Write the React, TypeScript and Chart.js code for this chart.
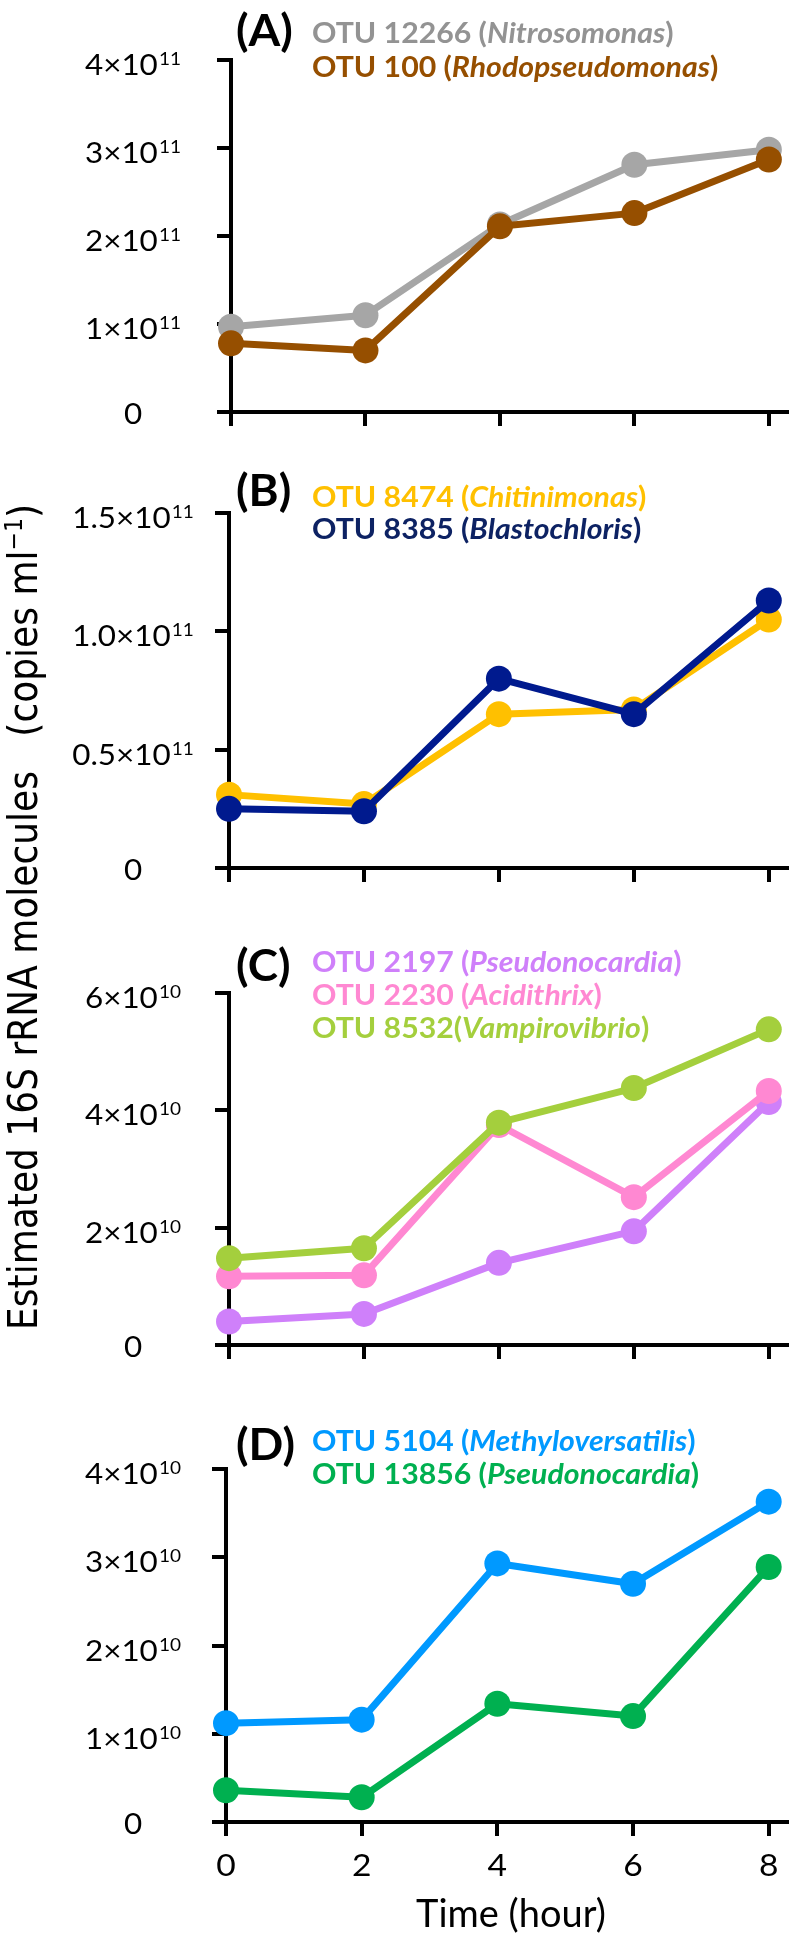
import React, { useEffect, useRef } from 'react';
import { Chart, registerables } from 'chart.js';

Chart.register(...registerables);

// ---------------- data ----------------
const hours = [0, 2, 4, 6, 8];
const xTickLabels = ['0', '2', '4', '6', '8'];

// Panel A
const otu12266 = [0.97e11, 1.10e11, 2.13e11, 2.81e11, 2.98e11];
const otu100 = [0.78e11, 0.70e11, 2.11e11, 2.26e11, 2.87e11];
const yTicksA = [0, 1e11, 2e11, 3e11, 4e11];
const yTickLabelsA = ['0', '1×10^11', '2×10^11', '3×10^11', '4×10^11'];
const legendA = ['OTU 12266 (Nitrosomonas)', 'OTU 100 (Rhodopseudomonas)'];

// Panel B
const otu8474 = [0.31e11, 0.27e11, 0.65e11, 0.67e11, 1.05e11];
const otu8385 = [0.25e11, 0.24e11, 0.80e11, 0.65e11, 1.13e11];
const yTicksB = [0, 0.5e11, 1.0e11, 1.5e11];
const yTickLabelsB = ['0', '0.5×10^11', '1.0×10^11', '1.5×10^11'];
const legendB = ['OTU 8474 (Chitinimonas)', 'OTU 8385 (Blastochloris)'];

// Panel C
const otu2197 = [0.40e10, 0.53e10, 1.40e10, 1.94e10, 4.14e10];
const otu2230 = [1.17e10, 1.19e10, 3.75e10, 2.52e10, 4.33e10];
const otu8532 = [1.48e10, 1.65e10, 3.79e10, 4.38e10, 5.38e10];
const yTicksC = [0, 2e10, 4e10, 6e10];
const yTickLabelsC = ['0', '2×10^10', '4×10^10', '6×10^10'];
const legendC = ['OTU 2197 (Pseudonocardia)', 'OTU 2230 (Acidithrix)', 'OTU 8532(Vampirovibrio)'];

// Panel D
const otu5104 = [1.12e10, 1.16e10, 2.93e10, 2.70e10, 3.63e10];
const otu13856 = [0.36e10, 0.28e10, 1.34e10, 1.20e10, 2.89e10];
const yTicksD = [0, 1e10, 2e10, 3e10, 4e10];
const yTickLabelsD = ['0', '1×10^10', '2×10^10', '3×10^10', '4×10^10'];
const legendD = ['OTU 5104 (Methyloversatilis)', 'OTU 13856 (Pseudonocardia)'];

const xTitle = 'Time (hour)';
const yTitleMain = 'Estimated 16S rRNA molecules';
const yTitleUnit = 'copies ml';
const yTitleExp = '−1';

// ---------------- styles / layout ----------------
const GRAY = '#A6A6A6';
const GRAY_TXT = '#939393';
const BROWN = '#964F00';
const YELLOW = '#FFC000';
const NAVY = '#001A8E';
const NAVY_TXT = '#0D2263';
const PURPLE = '#CF80FA';
const PINK = '#FF88D2';
const LIME = '#A4CF3D';
const BLUE = '#0099FF';
const GREEN = '#00B050';

const X_MAX = 8.27;
const PAD_T = 30;
const X_H = 70;
const Y_W = 30;
const Y_LABEL_CX = 133;
const TICK_FS = 28;
const SUP_FS = 17;
const SX = 1.12;
const FONT = 'Lato, "Open Sans", sans-serif';

type PanelCfg = {
  key: string;
  letter: string;
  series: number[][];
  labels: string[];
  colors: string[];
  textColors: string[];
  order: number[];
  yTicks: number[];
  yLabels: string[];
  top: number;
  bottom: number;
  left: number;
  x8: number;
  letterY: number;
  legendY: number[];
  showX: boolean;
};

const panels: PanelCfg[] = [
  {
    key: 'A', letter: '(A)', series: [otu12266, otu100], labels: legendA,
    colors: [GRAY, BROWN], textColors: [GRAY_TXT, BROWN], order: [1, 0],
    yTicks: yTicksA, yLabels: yTickLabelsA,
    top: 60, bottom: 412, left: 231, x8: 779, letterY: 46, legendY: [43, 77], showX: false,
  },
  {
    key: 'B', letter: '(B)', series: [otu8474, otu8385], labels: legendB,
    colors: [YELLOW, NAVY], textColors: [YELLOW, NAVY_TXT], order: [1, 0],
    yTicks: yTicksB, yLabels: yTickLabelsB,
    top: 513, bottom: 868, left: 229, x8: 775, letterY: 506, legendY: [507, 539], showX: false,
  },
  {
    key: 'C', letter: '(C)', series: [otu2197, otu2230, otu8532], labels: legendC,
    colors: [PURPLE, PINK, LIME], textColors: [PURPLE, PINK, LIME], order: [2, 1, 0],
    yTicks: yTicksC, yLabels: yTickLabelsC,
    top: 993, bottom: 1345, left: 229, x8: 772, letterY: 981, legendY: [972, 1005, 1038], showX: false,
  },
  {
    key: 'D', letter: '(D)', series: [otu5104, otu13856], labels: legendD,
    colors: [BLUE, GREEN], textColors: [BLUE, GREEN], order: [0, 1],
    yTicks: yTicksD, yLabels: yTickLabelsD,
    top: 1469, bottom: 1822, left: 226, x8: 772, letterY: 1460, legendY: [1451, 1484], showX: true,
  },
];

function makeLabelPlugin(p: PanelCfg) {
  return {
    id: 'tickLabels' + p.key,
    afterDraw(chart: any) {
      const ctx = chart.ctx as CanvasRenderingContext2D;
      const ys = chart.scales.y;
      const xs = chart.scales.x;
      ctx.save();
      ctx.fillStyle = '#000';
      ctx.textBaseline = 'alphabetic';
      ctx.textAlign = 'left';
      p.yTicks.forEach((v, i) => {
        const [base, exp] = p.yLabels[i].split('^');
        const py = ys.getPixelForValue(v);
        ctx.font = `${TICK_FS}px ${FONT}`;
        const wb = ctx.measureText(base).width;
        ctx.font = `${SUP_FS}px ${FONT}`;
        const we = exp ? ctx.measureText(exp).width + 1 : 0;
        const total = (wb + we) * SX;
        const x0 = Y_LABEL_CX - total / 2;
        const by = py + (exp ? 15 : 12);
        ctx.save();
        ctx.translate(x0, by);
        ctx.scale(SX, 1);
        ctx.font = `${TICK_FS}px ${FONT}`;
        ctx.fillText(base, 0, 0);
        if (exp) {
          ctx.font = `${SUP_FS}px ${FONT}`;
          ctx.fillText(exp, wb + 1, -10);
        }
        ctx.restore();
      });
      if (p.showX) {
        ctx.font = `30px ${FONT}`;
        hours.forEach((h, i) => {
          const px = xs.getPixelForValue(h);
          const w = ctx.measureText(xTickLabels[i]).width * SX;
          ctx.save();
          ctx.translate(px - w / 2, xs.top + 54);
          ctx.scale(SX, 1);
          ctx.fillText(xTickLabels[i], 0, 0);
          ctx.restore();
        });
      }
      ctx.restore();
    },
  };
}

function Panel({ p }: { p: PanelCfg }) {
  const ref = useRef<HTMLCanvasElement>(null);
  const H = p.bottom - p.top + PAD_T + X_H;
  useEffect(() => {
    const right = p.left + ((p.x8 - p.left) * X_MAX) / 8;
    const axisStyle = {
      grid: { drawOnChartArea: false, drawTicks: true, tickLength: 14, lineWidth: 4, color: '#000' },
      border: { display: true, width: 4, color: '#000' },
      ticks: { display: false },
    };
    const chart = new Chart(ref.current as HTMLCanvasElement, {
      type: 'line',
      data: {
        datasets: p.series.map((s, i) => ({
          data: hours.map((h, j) => ({ x: h, y: s[j] })),
          borderColor: p.colors[i],
          backgroundColor: p.colors[i],
          pointBackgroundColor: p.colors[i],
          pointBorderColor: p.colors[i],
          pointBorderWidth: 0,
          pointRadius: 13,
          pointHoverRadius: 13,
          borderWidth: 7,
          tension: 0,
          fill: false,
          clip: false as any,
          order: p.order[i],
          borderJoinStyle: 'round' as const,
          borderCapStyle: 'round' as const,
        })),
      },
      options: {
        responsive: false,
        maintainAspectRatio: false,
        animation: false,
        devicePixelRatio: 1,
        events: [],
        layout: { padding: { left: p.left - Y_W, right: 800 - right, top: PAD_T, bottom: 0 } },
        plugins: { legend: { display: false }, tooltip: { enabled: false }, title: { display: false } },
        scales: {
          x: {
            type: 'linear',
            min: 0,
            max: X_MAX,
            afterBuildTicks: (s: any) => { s.ticks = hours.map((v) => ({ value: v })); },
            afterFit: (s: any) => { s.height = X_H; s.paddingLeft = 0; s.paddingRight = 0; },
            ...axisStyle,
          },
          y: {
            type: 'linear',
            min: 0,
            max: p.yTicks[p.yTicks.length - 1],
            afterBuildTicks: (s: any) => { s.ticks = p.yTicks.map((v) => ({ value: v })); },
            afterFit: (s: any) => { s.width = Y_W; s.paddingTop = 0; s.paddingBottom = 0; },
            ...axisStyle,
          },
        },
      } as any,
      plugins: [makeLabelPlugin(p)],
    });
    return () => chart.destroy();
  }, []);
  return (
    <canvas
      ref={ref}
      width={800}
      height={H}
      style={{ position: 'absolute', left: 0, top: p.top - PAD_T, width: 800, height: H, display: 'block' }}
    />
  );
}

function splitLabel(lab: string) {
  const m = lab.match(/^(.*\()(.*)(\))$/);
  return m ? [m[1], m[2], m[3]] : [lab, '', ''];
}

export default function App() {
  return (
    <div style={{ position: 'absolute', left: 0, top: 0, width: 800, height: 1941, background: '#fff', overflow: 'hidden' }}>
      {panels.map((p) => (
        <Panel key={p.key} p={p} />
      ))}
      <svg width={800} height={1941} style={{ position: 'absolute', left: 0, top: 0, pointerEvents: 'none' }}>
        {panels.map((p) => (
          <g key={p.key}>
            <text
              transform={`translate(236, ${p.letterY}) scale(1.04, 1)`}
              fontFamily={FONT}
              fontWeight={700}
              fontSize={44}
              fill="#000"
            >
              {p.letter}
            </text>
            {p.labels.map((lab, i) => {
              const [a, b, c] = splitLabel(lab);
              return (
                <text
                  key={i}
                  transform={`translate(312, ${p.legendY[i]}) scale(1.08, 1)`}
                  fontFamily={FONT}
                  fontWeight={700}
                  fontSize={28}
                  fill={p.textColors[i]}
                  style={{ whiteSpace: 'pre' }}
                >
                  {a}
                  <tspan fontStyle="italic">{b}</tspan>
                  {c}
                </text>
              );
            })}
          </g>
        ))}
        <text x={511} y={1927} textAnchor="middle" fontFamily={FONT} fontSize={38} fill="#000">
          {xTitle}
        </text>
        <text
          transform="translate(37, 917) scale(1.12, 1) rotate(-90)"
          textAnchor="middle"
          fontFamily='"DejaVu Sans", Verdana, sans-serif'
          fontSize={36}
          fill="#000"
          style={{ whiteSpace: 'pre' }}
        >
          {yTitleMain + '\u00a0\u00a0\u00a0(' + yTitleUnit}
          <tspan dy={-13} fontSize={22}>{yTitleExp}</tspan>
          <tspan dy={13}>)</tspan>
        </text>
      </svg>
    </div>
  );
}
